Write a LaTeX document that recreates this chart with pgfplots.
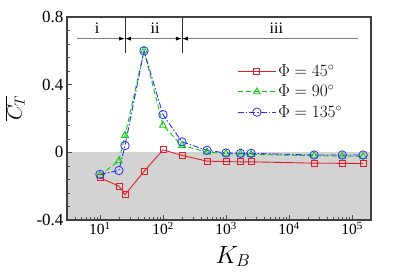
\documentclass[border=0pt]{standalone}
\usepackage{fontspec}
\setmainfont{Liberation Serif}
\usepackage{pgfplots}
\pgfplotsset{compat=1.18}
\usetikzlibrary{arrows.meta}
\definecolor{cred}{RGB}{225,30,40}
\definecolor{cgreen}{RGB}{0,205,0}
\definecolor{cblue}{RGB}{45,45,255}
\definecolor{shade}{RGB}{211,211,211}
\begin{document}
\begin{tikzpicture}
\begin{axis}[
  scale only axis, width=304pt, height=203pt,
  xmode=log, xmin=3, xmax=2e5, ymin=-0.4, ymax=0.8,
  xtick={10,100,1000,10000,100000},
  xticklabels={10\textsuperscript{1},10\textsuperscript{2},10\textsuperscript{3},10\textsuperscript{4},10\textsuperscript{5}},
  minor xtick={4,5,6,7,8,9,20,30,40,50,60,70,80,90,200,300,400,500,600,700,800,900,2000,3000,4000,5000,6000,7000,8000,9000,20000,30000,40000,50000,60000,70000,80000,90000},
  ytick={-0.4,0,0.4,0.8}, yticklabels={-0.4,0,0.4,0.8},
  minor y tick num=4,
  xtick pos=bottom, ytick pos=left,
  tick align=inside,
  axis line style={draw=black!75, line width=1.2pt},
  major tick length=5pt, minor tick length=3pt,
  every tick/.style={black!70, line width=0.6pt},
  y tick label style={font=\fontsize{17}{17}\selectfont},
  x tick label style={font=\fontsize{15.5}{15.5}\selectfont, yshift=1pt},
  xlabel={$K_B$},
  xlabel style={font=\fontsize{24}{24}\selectfont, at={(axis description cs:0.546,-0.18)}, anchor=center},
  ylabel={$\overline{C_T}$},
  ylabel style={font=\fontsize{22}{22}\selectfont, at={(axis description cs:-0.171,0.55)}, anchor=center},
  axis on top,
  legend style={at={(axis description cs:0.56,0.775)}, anchor=north west, draw=none, fill=none,
    font=\fontsize{17}{17}\selectfont, row sep=3pt, inner sep=0pt},
  legend cell align=left,
  legend image code/.code={\draw[mark repeat=2,mark phase=2,#1] plot coordinates {(0pt,0pt)(19pt,0pt)(38pt,0pt)};},
]
\addplot[draw=none, fill=shade, forget plot] coordinates {(3,-0.4)(2e5,-0.4)(2e5,0)(3,0)} -- cycle;

\addplot[cred, line width=0.9pt, mark=square, mark size=3pt, mark options={solid, line width=0.8pt}] coordinates {
(10,-0.15)(20,-0.20)(25,-0.25)(50,-0.113)(100,0.015)(200,-0.018)(500,-0.052)(1000,-0.055)(1700,-0.056)(2500,-0.056)(25000,-0.064)(70000,-0.065)(150000,-0.066)};
\addlegendentry{$\Phi = 45^\circ$}

\addplot[cgreen, line width=0.9pt, dash pattern=on 5pt off 3pt, mark=triangle, mark size=4pt, mark options={solid, line width=0.8pt}] coordinates {
(10,-0.135)(20,-0.05)(25,0.10)(50,0.60)(100,0.16)(200,0.04)(500,0.002)(1000,-0.008)(1700,-0.01)(2500,-0.012)(25000,-0.02)(70000,-0.022)(150000,-0.024)};
\addlegendentry{$\Phi = 90^\circ$}

\addplot[cblue, line width=0.9pt, dash pattern=on 6pt off 2pt on 1.5pt off 2pt, mark=o, mark size=4.2pt, mark options={solid, line width=0.8pt}] coordinates {
(10,-0.13)(20,-0.107)(25,0.04)(50,0.60)(100,0.223)(200,0.062)(500,0.012)(1000,-0.004)(1700,-0.006)(2500,-0.006)(25000,-0.016)(70000,-0.016)(150000,-0.016)};
\addlegendentry{$\Phi = 135^\circ$}

\draw[black!80, line width=0.8pt] (axis cs:25,0.8) -- (axis cs:25,0.585);
\draw[black!80, line width=0.8pt] (axis cs:200,0.8) -- (axis cs:200,0.585);
\draw[gray, line width=0.8pt, -{Latex[black,length=6pt,width=4pt]}] (axis cs:4.4,0.672) -- (axis cs:25,0.672);
\draw[gray, line width=0.8pt, {Latex[black,length=6pt,width=4pt]}-{Latex[black,length=6pt,width=4pt]}] (axis cs:25,0.672) -- (axis cs:200,0.672);
\draw[gray, line width=0.8pt, {Latex[black,length=6pt,width=4pt]}-] (axis cs:200,0.672) -- (axis cs:1.26e5,0.672);
\node[font=\fontsize{16}{16}\selectfont] at (axis cs:9,0.735) {i};
\node[font=\fontsize{16}{16}\selectfont] at (axis cs:75,0.735) {ii};
\node[font=\fontsize{16}{16}\selectfont] at (axis cs:6300,0.735) {iii};
\end{axis}
\pgfresetboundingbox
\path[use as bounding box] ([shift={(-67pt,-52pt)}]current axis.south west) rectangle ([shift={(36pt,17pt)}]current axis.north east);
\end{tikzpicture}
\end{document}
